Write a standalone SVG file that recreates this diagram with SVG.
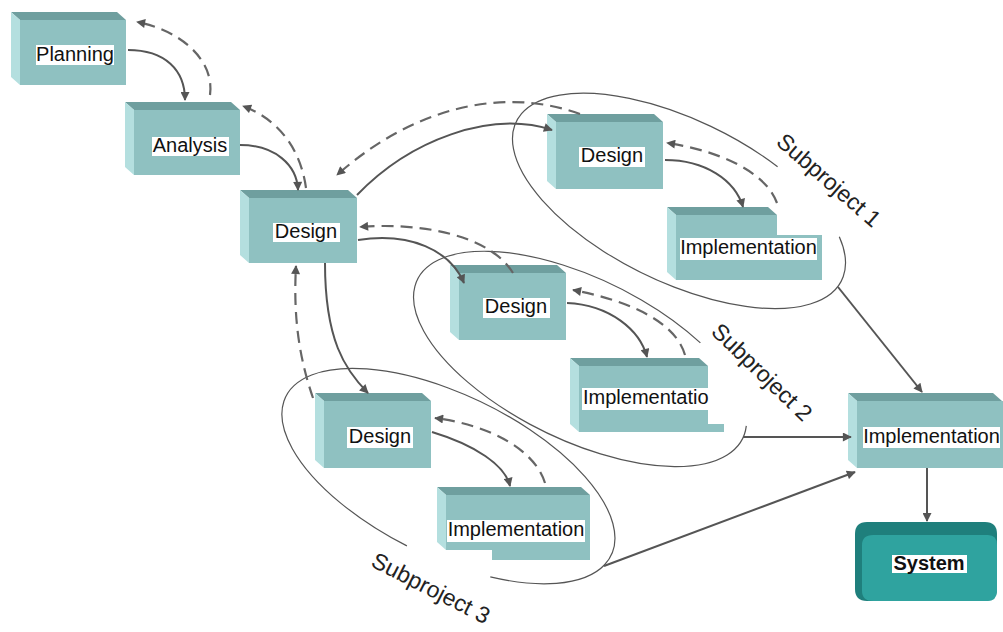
<svg xmlns="http://www.w3.org/2000/svg" width="1003" height="632" viewBox="0 0 1003 632">
<defs>
<style>
.top{fill:#6f9f9f}
.side{fill:#b4dfdf}
.front{fill:#8fc1c1}
.bg{fill:#ffffff}
.t{font-family:"Liberation Sans",Arial,sans-serif;font-size:20px;fill:#111}
.sp{font-family:"Liberation Sans",Arial,sans-serif;font-size:23px;fill:#222}
.solid{fill:none;stroke:#555;stroke-width:2}
.dash{fill:none;stroke:#666;stroke-width:2.2;stroke-dasharray:12 7}
.ell{fill:none;stroke:#555;stroke-width:1.2}
</style>
<marker id="ah" viewBox="0 0 10 10" refX="9" refY="5" markerWidth="11" markerHeight="9" orient="auto" markerUnits="userSpaceOnUse">
<path d="M0,0 L10,5 L0,10 z" fill="#555"/>
</marker>
</defs>
<rect width="1003" height="632" fill="#fff"/>

<g id="subprojects">
<path class="ell" d="M777.6,166.7 A181,81 26 1 0 839.3,236.8"/>
<path class="ell" d="M700.4,342.9 A181,81 26 1 0 746.3,425.9"/>
<path class="ell" d="M490.3,576.9 A181,81 26 1 0 406.9,545.9"/>
<text class="sp" text-anchor="middle" dy="8" transform="translate(829,180) rotate(41)">Subproject 1</text>
<text class="sp" text-anchor="middle" dy="8" transform="translate(762,372) rotate(44)">Subproject 2</text>
<text class="sp" text-anchor="middle" dy="8" transform="translate(431,588) rotate(27)">Subproject 3</text>
</g>

<g id="planning">
<polygon class="top" points="11,12 117,12 126,20 20,20"/>
<polygon class="side" points="11,12 20,20 20,85 11,77"/>
<rect class="front" x="20" y="20" width="106" height="65"/>
<rect class="bg" x="36" y="45" width="78" height="20"/>
<text class="t" x="75" y="61" text-anchor="middle">Planning</text>
</g>

<g id="analysis">
<polygon class="top" points="125,102 231,102 240,110 134,110"/>
<polygon class="side" points="125,102 134,110 134,175 125,167"/>
<rect class="front" x="134" y="110" width="106" height="65"/>
<rect class="bg" x="152" y="137" width="77" height="19"/>
<text class="t" x="190" y="152" text-anchor="middle">Analysis</text>
</g>

<g id="design-main">
<polygon class="top" points="240,190 348,190 357,198 249,198"/>
<polygon class="side" points="240,190 249,198 249,263 240,255"/>
<rect class="front" x="249" y="198" width="108" height="65"/>
<rect class="bg" x="273" y="223" width="67" height="19"/>
<text class="t" x="306" y="238" text-anchor="middle">Design</text>
</g>

<g id="design-sp1">
<polygon class="top" points="547,114 654,114 663,122 556,122"/>
<polygon class="side" points="547,114 556,122 556,189 547,181"/>
<rect class="front" x="556" y="122" width="107" height="67"/>
<rect class="bg" x="579" y="147" width="66" height="20"/>
<text class="t" x="612" y="162" text-anchor="middle">Design</text>
</g>

<g id="impl-sp1">
<polygon class="top" points="667,207 768,207 777,215 676,215"/>
<polygon class="side" points="667,207 676,215 676,280 667,272"/>
<rect class="front" x="676" y="215" width="101" height="65"/>
<rect class="front" x="776" y="235" width="46" height="45"/>
<rect class="bg" x="680" y="238" width="137" height="22"/>
<text class="t" x="748.5" y="254" text-anchor="middle">Implementation</text>
</g>

<g id="design-sp2">
<polygon class="top" points="450,265 557,265 566,273 459,273"/>
<polygon class="side" points="450,265 459,273 459,340 450,332"/>
<rect class="front" x="459" y="273" width="107" height="67"/>
<rect class="bg" x="483" y="298" width="67" height="20"/>
<text class="t" x="516" y="313" text-anchor="middle">Design</text>
</g>

<g id="impl-sp2">
<polygon class="top" points="570,358 699,358 708,366 579,366"/>
<polygon class="side" points="570,358 579,366 579,432 570,424"/>
<rect class="front" x="579" y="366" width="129" height="66"/>
<rect class="front" x="707" y="424" width="17" height="8"/>
<rect class="bg" x="582" y="388" width="126" height="22"/>
<text class="t" x="583" y="404">Implementatio</text>
</g>

<g id="design-sp3">
<polygon class="top" points="315,393 422,393 431,401 324,401"/>
<polygon class="side" points="315,393 324,401 324,468 315,460"/>
<rect class="front" x="324" y="401" width="107" height="67"/>
<rect class="bg" x="347" y="427" width="66" height="21"/>
<text class="t" x="380" y="443" text-anchor="middle">Design</text>
</g>

<g id="impl-sp3">
<polygon class="top" points="437,487 581,487 590,495 446,495"/>
<polygon class="side" points="437,487 446,495 446,550 437,542"/>
<rect class="front" x="446" y="495" width="144" height="55"/>
<rect class="front" x="492" y="549" width="98" height="11"/>
<rect class="bg" x="447" y="520" width="138" height="22"/>
<text class="t" x="516" y="536" text-anchor="middle">Implementation</text>
</g>

<g id="impl-main">
<polygon class="top" points="848,393 993,393 1002,401 857,401"/>
<polygon class="side" points="848,393 857,401 857,468 848,460"/>
<rect class="front" x="857" y="401" width="146" height="67"/>
<rect class="bg" x="863" y="427" width="137" height="21"/>
<text class="t" x="931.5" y="443" text-anchor="middle">Implementation</text>
</g>

<g id="system">
<path d="M867,522 H985 Q997,522 997,534 V589 Q997,601 985,601 H867 Q855,601 855,589 V534 Q855,522 867,522 Z" fill="#1f7f7c"/>
<path d="M873,535 H988 Q997,535 997,545 V591 Q997,601 987,601 H873 Q862,601 862,591 V545 Q862,535 873,535 Z" fill="#2fa39f"/>
<rect class="bg" x="892" y="555" width="75" height="18"/>
<text class="t" x="929" y="570" text-anchor="middle" font-weight="bold">System</text>
</g>

<g id="connectors">
<path class="solid" marker-end="url(#ah)" d="M128,50 C165,50 185,70 185,100"/>
<path class="dash" marker-end="url(#ah)" d="M210,95 C215,60 180,30 137,22"/>
<path class="solid" marker-end="url(#ah)" d="M240,145 C275,145 297,165 298,190"/>
<path class="dash" marker-end="url(#ah)" d="M306,188 C300,145 275,118 243,106"/>
<path class="solid" marker-end="url(#ah)" d="M357,195 C410,140 490,110 552,130"/>
<path class="dash" marker-end="url(#ah)" d="M580,114 C500,85 410,110 337,175"/>
<path class="solid" marker-end="url(#ah)" d="M358,240 C410,232 450,250 464,283"/>
<path class="dash" marker-end="url(#ah)" d="M513,273 C490,235 420,222 360,227"/>
<path class="solid" marker-end="url(#ah)" d="M325,263 C325,340 345,370 368,393"/>
<path class="dash" marker-end="url(#ah)" d="M313,398 C300,360 293,320 296,266"/>
<path class="solid" marker-end="url(#ah)" d="M665,160 C705,160 735,180 743,207"/>
<path class="dash" marker-end="url(#ah)" d="M777,203 C765,170 715,150 667,143"/>
<path class="solid" marker-end="url(#ah)" d="M567,303 C610,305 640,330 647,357"/>
<path class="dash" marker-end="url(#ah)" d="M685,355 C675,320 625,300 573,290"/>
<path class="solid" marker-end="url(#ah)" d="M432,432 C475,445 505,465 510,486"/>
<path class="dash" marker-end="url(#ah)" d="M545,483 C535,450 490,425 435,418"/>
<path class="solid" marker-end="url(#ah)" d="M838,287 L922,392"/>
<path class="solid" marker-end="url(#ah)" d="M743,437 L851,437"/>
<path class="solid" marker-end="url(#ah)" d="M604,566 L855,472"/>
<path class="solid" marker-end="url(#ah)" d="M927,468 L927,521"/>
</g>
</svg>
